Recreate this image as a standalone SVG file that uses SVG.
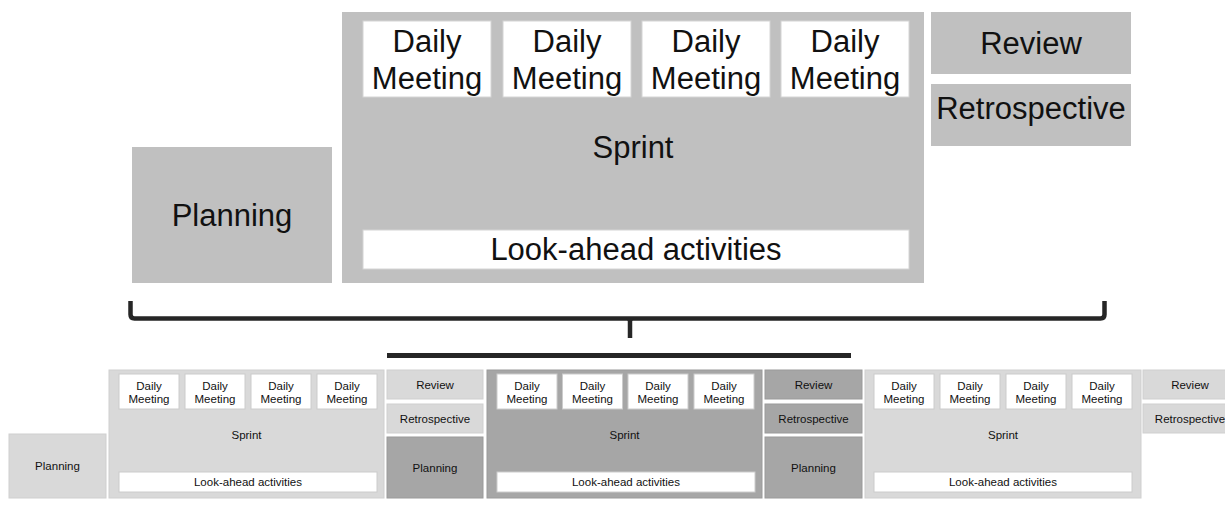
<svg xmlns="http://www.w3.org/2000/svg" width="1225" height="506" viewBox="0 0 1225 506">
<style>
text{font-family:"Liberation Sans",Arial,sans-serif;fill:#111;text-anchor:middle}
.big{font-size:31px}
.sm{font-size:11.5px}
.g{fill:#c0c0c0}
.w{fill:#fff;stroke:#d4d4d4;stroke-width:1}
.lt{fill:#d9d9d9;stroke:#cfcfcf;stroke-width:1}
.dk{fill:#a6a6a6;stroke:#9a9a9a;stroke-width:1}
.ws{fill:#fff;stroke:#cccccc;stroke-width:1}
.br{fill:none;stroke:#262626;stroke-width:4.5;stroke-linecap:butt}
</style>
<defs>
<g id="dm">
<rect class="ws" x="0" y="0" width="60" height="35"/>
<text class="sm" x="30" y="16">Daily</text>
<text class="sm" x="30" y="29">Meeting</text>
</g>
</defs>

<!-- Top detailed view -->
<g id="planning-top">
<rect class="g" x="132" y="147" width="200" height="136"/>
<text class="big" x="232" y="226">Planning</text>
</g>
<g id="sprint-top">
<rect class="g" x="342" y="12" width="582" height="271"/>
<text class="big" x="633" y="158">Sprint</text>
</g>
<g id="daily-top-1">
<rect class="w" x="363" y="21" width="128" height="76"/>
<text class="big" x="427" y="52">Daily</text>
<text class="big" x="427" y="89">Meeting</text>
</g>
<g id="daily-top-2">
<rect class="w" x="503" y="21" width="128" height="76"/>
<text class="big" x="567" y="52">Daily</text>
<text class="big" x="567" y="89">Meeting</text>
</g>
<g id="daily-top-3">
<rect class="w" x="642" y="21" width="128" height="76"/>
<text class="big" x="706" y="52">Daily</text>
<text class="big" x="706" y="89">Meeting</text>
</g>
<g id="daily-top-4">
<rect class="w" x="781" y="21" width="128" height="76"/>
<text class="big" x="845" y="52">Daily</text>
<text class="big" x="845" y="89">Meeting</text>
</g>
<g id="lookahead-top">
<rect class="w" x="363" y="230" width="546" height="39"/>
<text class="big" x="636" y="260">Look-ahead activities</text>
</g>
<g id="review-top">
<rect class="g" x="931" y="12" width="200" height="62"/>
<text class="big" x="1031" y="54">Review</text>
</g>
<g id="retro-top">
<rect class="g" x="931" y="84" width="200" height="62"/>
<text class="big" x="1031" y="119">Retrospective</text>
</g>

<!-- Connectors: brace and bar -->
<g id="connectors">
<path class="br" d="M130.5,301 L130.5,314.5 Q130.5,318.5 134.5,318.5 L1100.5,318.5 Q1104.5,318.5 1104.5,314.5 L1104.5,301"/>
<path class="br" d="M630,318 L630,338"/>
<path d="M626,318 L634,318 L631.5,322 L628.5,322 Z" fill="#262626"/>
<rect x="387" y="353" width="464" height="5" fill="#262626"/>
</g>

<!-- Bottom sequence -->
<g id="planning-1">
<rect class="lt" x="9" y="434" width="97" height="64"/>
<text class="sm" x="57.5" y="470">Planning</text>
</g>
<g id="sprint-1">
<rect class="lt" x="109" y="370" width="275" height="128"/>
<text class="sm" x="246.5" y="439">Sprint</text>
<use href="#dm" x="119" y="374"/>
<use href="#dm" x="185" y="374"/>
<use href="#dm" x="251" y="374"/>
<use href="#dm" x="317" y="374"/>
<rect class="ws" x="119" y="472" width="258" height="20"/>
<text class="sm" x="248" y="486">Look-ahead activities</text>
</g>
<g id="review-1">
<rect class="lt" x="387" y="370" width="96" height="29"/>
<text class="sm" x="435" y="388.5">Review</text>
</g>
<g id="retro-1">
<rect class="lt" x="387" y="404" width="96" height="29"/>
<text class="sm" x="435" y="422.5">Retrospective</text>
</g>
<g id="planning-2">
<rect class="dk" x="387" y="437" width="96" height="61"/>
<text class="sm" x="435" y="471.5">Planning</text>
</g>
<g id="sprint-2">
<rect class="dk" x="487" y="370" width="275" height="128"/>
<text class="sm" x="624.5" y="439">Sprint</text>
<use href="#dm" x="497" y="374"/>
<use href="#dm" x="562.5" y="374"/>
<use href="#dm" x="628" y="374"/>
<use href="#dm" x="694" y="374"/>
<rect class="ws" x="497" y="472" width="258" height="20"/>
<text class="sm" x="626" y="486">Look-ahead activities</text>
</g>
<g id="review-2">
<rect class="dk" x="765" y="370" width="97" height="29"/>
<text class="sm" x="813.5" y="388.5">Review</text>
</g>
<g id="retro-2">
<rect class="dk" x="765" y="404" width="97" height="29"/>
<text class="sm" x="813.5" y="422.5">Retrospective</text>
</g>
<g id="planning-3">
<rect class="dk" x="765" y="437" width="97" height="61"/>
<text class="sm" x="813.5" y="471.5">Planning</text>
</g>
<g id="sprint-3">
<rect class="lt" x="865" y="370" width="276" height="128"/>
<text class="sm" x="1003" y="439">Sprint</text>
<use href="#dm" x="874" y="374"/>
<use href="#dm" x="940" y="374"/>
<use href="#dm" x="1006" y="374"/>
<use href="#dm" x="1072" y="374"/>
<rect class="ws" x="874" y="472" width="258" height="20"/>
<text class="sm" x="1003" y="486">Look-ahead activities</text>
</g>
<g id="review-3">
<rect class="lt" x="1143" y="370" width="97" height="29"/>
<text class="sm" x="1190" y="388.5">Review</text>
</g>
<g id="retro-3">
<rect class="lt" x="1143" y="404" width="97" height="29"/>
<text class="sm" x="1190" y="422.5">Retrospective</text>
</g>
</svg>
